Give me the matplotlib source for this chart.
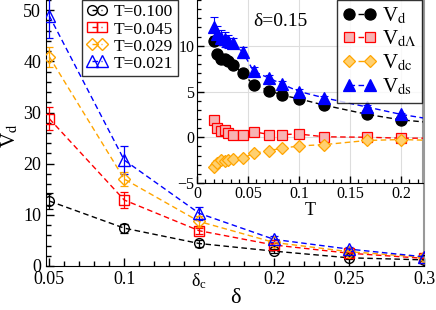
import matplotlib
matplotlib.use("Agg")
import matplotlib.pyplot as plt
from matplotlib.ticker import MultipleLocator, FixedLocator
import numpy as np

plt.rcParams['font.family'] = ['Liberation Serif', 'DejaVu Serif']
plt.rcParams['mathtext.fontset'] = 'stix'

# ---------------- main panel data ----------------
delta = [0.05, 0.1, 0.15, 0.2, 0.25, 0.3]
vd_T0100 = [12.7, 7.4, 4.4, 2.9, 1.6, 1.2]
vd_T0045 = [28.8, 12.9, 6.9, 4.1, 2.5, 1.5]
vd_T0029 = [40.9, 17.0, 8.7, 4.6, 2.8, 1.7]
vd_T0021 = [48.9, 20.7, 10.3, 5.2, 3.3, 1.8]
err_T0100 = [1.5, 0.9, 0.6, 0.4, 0.3, 0.3]
err_T0045 = [2.2, 1.5, 0.6, 0.4, 0.3, 0.3]
err_T0029 = [2.0, 1.3, 1.0, 0.5, 0.3, 0.3]
err_T0021 = [4.3, 2.7, 1.3, 0.6, 0.4, 0.3]
main_labels = ['T=0.100', 'T=0.045', 'T=0.029', 'T=0.021']
xtick_vals = [0.05, 0.1, 0.15, 0.2, 0.25, 0.3]
xtick_labels = ['0.05', '0.1', r'$\mathregular{δ_c}$', '0.2', '0.25', '0.3']

# ---------------- inset data ----------------
T_inset = [0.0167, 0.02, 0.0235, 0.027, 0.03, 0.035, 0.045, 0.0555, 0.071,
           0.0835, 0.1, 0.125, 0.167, 0.2, 0.25]
Vd = [10.5, 9.1, 8.6, 8.5, 8.3, 7.9, 7.0, 5.7, 5.1, 4.6, 4.2, 3.5, 2.5, 1.9, 1.4]
VdL = [1.9, 1.0, 0.7, 0.8, 0.5, 0.2, 0.2, 0.6, 0.3, 0.3, 0.35, 0.05, 0.0, -0.1, -0.1]
Vdc = [-3.2, -2.8, -2.5, -2.6, -2.5, -2.4, -2.3, -1.75, -1.45, -1.2, -0.95, -0.8,
       -0.35, -0.25, -0.4]
Vds = [12.1, 11.3, 10.9, 10.7, 10.5, 10.3, 9.3, 7.2, 6.45, 5.8, 5.0, 4.3, 3.3, 2.5, 1.6]
err_Vd = [0.3, 0.25, 0.2, 0.2, 0.2, 0.2, 0.2, 0.2, 0.15, 0.15, 0.15, 0.1, 0.1, 0.1, 0.1]
err_VdL = [0.4, 0.3, 0.3, 0.3, 0.3, 0.25, 0.25, 0.2, 0.2, 0.2, 0.15, 0.15, 0.1, 0.1, 0.1]
err_Vdc = [0.3, 0.3, 0.3, 0.3, 0.25, 0.25, 0.2, 0.2, 0.2, 0.15, 0.15, 0.1, 0.1, 0.1, 0.1]
err_Vds = [1.0, 0.9, 0.8, 0.8, 0.7, 0.6, 0.6, 0.5, 0.4, 0.35, 0.3, 0.25, 0.2, 0.2, 0.2]
inset_labels = [r'V$_{\rm d}$', r'V$_{\rm d\Lambda}$', r'V$_{\rm dc}$', r'V$_{\rm ds}$']

fig = plt.figure(figsize=(4.36, 3.10), dpi=100)
ax = fig.add_axes([46/436, 1 - 266/310, (424 - 46)/436, 266/310])

cols = ['black', 'red', 'orange', 'blue']
mks = ['o', 's', 'D', '^']
msz = [7, 7, 6, 8]
series = [vd_T0100, vd_T0045, vd_T0029, vd_T0021]
errs = [err_T0100, err_T0045, err_T0029, err_T0021]
handles = []
for y, e, c, m, s, lab in zip(series, errs, cols, mks, msz, main_labels):
    ax.errorbar(delta, y, yerr=e, fmt='none', ecolor=c, elinewidth=0.9,
                capsize=3, capthick=0.9, zorder=2)
    h, = ax.plot(delta, y, ls=(0, (4, 2.5)), color=c, lw=1.0, marker=m, ms=s,
                 mfc='none', mec=c, mew=1.0, label=lab, zorder=3)
    handles.append(h)

ax.set_xlim(0.0478, 0.3)
ax.set_ylim(0, 52)
ax.xaxis.set_major_locator(FixedLocator(xtick_vals))
ax.set_xticklabels(xtick_labels)
ax.xaxis.set_minor_locator(MultipleLocator(0.01))
ax.yaxis.set_major_locator(MultipleLocator(10))
ax.yaxis.set_minor_locator(MultipleLocator(2))
ax.tick_params(which='both', direction='in', top=False, right=False, labelsize=13)
ax.tick_params(which='major', length=6, width=1)
ax.tick_params(which='minor', length=3.5, width=1)
ax.spines['top'].set_visible(False)
ax.spines['right'].set_color('#999999')
ax.spines['right'].set_linewidth(1.5)
ax.set_xlabel('δ', fontsize=16, labelpad=-1)
ax.set_ylabel(r'V$_{\rm d}$', fontsize=15)
ax.yaxis.set_label_coords(-0.068, 0.49)

leg = ax.legend(handles=handles, loc='upper left', bbox_to_anchor=(82/436, 1.0),
                bbox_transform=fig.transFigure, numpoints=2, handlelength=1.2,
                handletextpad=0.4, labelspacing=0.05, borderpad=0.25,
                borderaxespad=0, fontsize=12.5, frameon=True, fancybox=False)
leg.get_frame().set_edgecolor('black')
leg.get_frame().set_linewidth(1.0)

# ---------------- inset ----------------
ins = fig.add_axes([197/436, 1 - 183/310, (423 - 197)/436, 183/310])
ins.set_facecolor('white')
ins.grid(True, color='#dddddd', lw=0.8, zorder=0)
ins.set_axisbelow(True)
icols = ['black', 'red', 'orange', 'blue']
imks = ['o', 's', 'D', '^']
imfc = ['black', '#f7b3b3', '#ffd070', 'blue']
imsz = [8, 7, 6, 8]
iser = [Vd, VdL, Vdc, Vds]
ierr = [err_Vd, err_VdL, err_Vdc, err_Vds]
ihandles = []
for y, e, c, m, fc, s, lab in zip(iser, ierr, icols, imks, imfc, imsz, inset_labels):
    ins.errorbar(T_inset, y, yerr=e, fmt='none', ecolor=c, elinewidth=0.8,
                 capsize=3, capthick=0.8, zorder=2)
    h, = ins.plot(T_inset, y, ls=(0, (4, 2.5)), color=c, lw=1.0, marker=m, ms=s,
                  mfc=fc, mec=c, mew=0.9, label=lab, zorder=3)
    ihandles.append(h)
ins.set_xlim(0, 0.2216)
ins.set_ylim(-5, 15)
ins.xaxis.set_major_locator(FixedLocator([0, 0.05, 0.1, 0.15, 0.2]))
ins.set_xticklabels(['0', '0.05', '0.1', '0.15', '0.2'])
ins.xaxis.set_minor_locator(MultipleLocator(0.05 / 6))
ins.yaxis.set_major_locator(FixedLocator([-5, 0, 5, 10]))
ins.yaxis.set_minor_locator(MultipleLocator(1))
ins.tick_params(which='both', direction='in', top=False, right=False, labelsize=11.5, pad=2)
ins.tick_params(which='major', length=5, width=1)
ins.tick_params(which='minor', length=3, width=0.9)
ins.spines['top'].set_visible(False)
ins.spines['right'].set_color('#999999')
ins.spines['right'].set_linewidth(1.5)
ins.set_xlabel('T', fontsize=13, labelpad=0)
ins.text(0.25, 0.88, 'δ=0.15', transform=ins.transAxes, fontsize=14,
         ha='left', va='center')

ileg = ins.legend(handles=ihandles, loc='upper right', bbox_to_anchor=(1 - 1/226, 1.0),
                  numpoints=2, handlelength=1.6, handletextpad=0.3, labelspacing=0.15,
                  borderpad=0.25, borderaxespad=0, fontsize=15, frameon=True,
                  fancybox=False)
ileg.get_frame().set_edgecolor('black')
ileg.get_frame().set_linewidth(1.0)

fig.savefig('out.png', dpi=100)
